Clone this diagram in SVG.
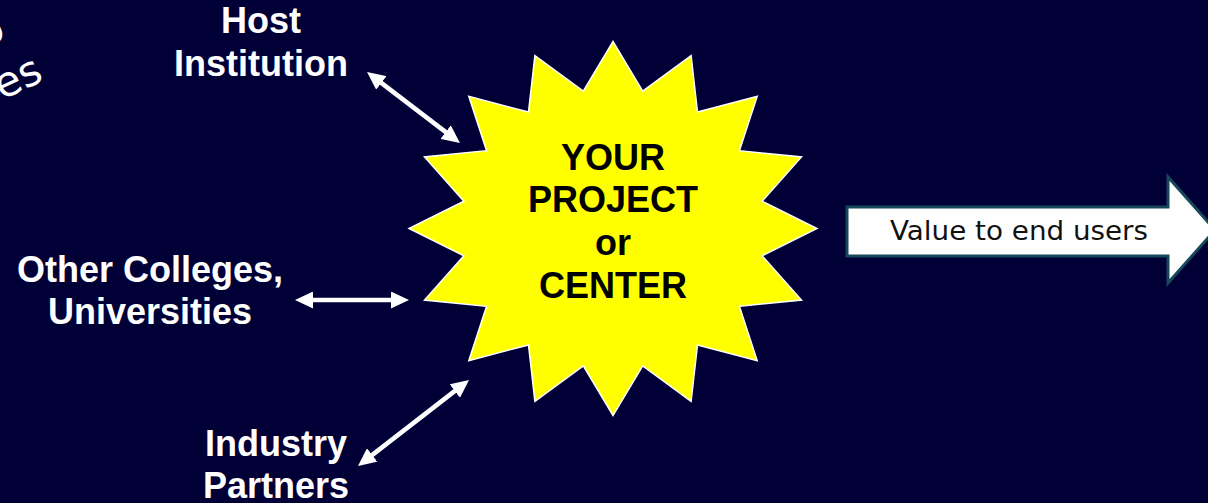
<svg xmlns="http://www.w3.org/2000/svg" width="1208" height="503" viewBox="0 0 1208 503">
  <style>
    .lbl { font-family: "Liberation Sans", Arial, sans-serif; font-weight: bold; font-size: 36px; fill: #ffffff; text-anchor: middle; }
    .ctr { font-family: "Liberation Sans", Arial, sans-serif; font-weight: bold; font-size: 36px; fill: #000000; text-anchor: middle; }
    .val { font-family: "DejaVu Sans", sans-serif; font-size: 26px; fill: #111111; }
    .deco { font-family: "DejaVu Sans", sans-serif; font-size: 42px; fill: #ffffff; }
    .conn { stroke: #ffffff; stroke-width: 4.5; fill: none; marker-start: url(#head); marker-end: url(#head); }
  </style>
  <defs>
    <marker id="head" markerUnits="userSpaceOnUse" viewBox="0 0 18 17" markerWidth="18" markerHeight="17" refX="10" refY="8.5" orient="auto-start-reverse">
      <path d="M0,0 L18,8.5 L0,17 Z" fill="#ffffff"/>
    </marker>
  </defs>
  <rect x="0" y="0" width="1208" height="503" fill="#000036"/>

  <g id="decor-partial-text">
    <text class="deco" x="-4" y="43" text-anchor="middle" transform="rotate(-25 -4 43)">o</text>
    <text class="deco" x="45" y="80" text-anchor="end" transform="rotate(-25 45 80)">es</text>
  </g>

  <g id="connectors">
    <path class="conn" d="M373.4,76.9 L453.6,138.1"/>
    <path class="conn" d="M303,300 L401,300"/>
    <path class="conn" d="M364.3,461.1 L462.7,384.9"/>
  </g>

  <g id="node-center">
    <path d="M613,41.5 L642.7,91.2 L691.1,55.7 L697.5,112.1 L757.2,96.3 L739.4,150.7 L801.5,156.9 L762.1,201.2 L817,228.5 L762.1,255.8 L801.5,300.1 L739.4,306.3 L757.2,360.7 L697.5,344.9 L691.1,401.3 L642.7,365.8 L613,415.5 L583.3,365.8 L534.9,401.3 L528.5,344.9 L468.8,360.7 L486.6,306.3 L424.5,300.1 L463.9,255.8 L409,228.5 L463.9,201.2 L424.5,156.9 L486.6,150.7 L468.8,96.3 L528.5,112.1 L534.9,55.7 L583.3,91.2 Z" fill="#ffff00" stroke="#ffffff" stroke-width="1.5" stroke-linejoin="miter"/>
    <text class="ctr" x="613" y="170">YOUR</text>
    <text class="ctr" x="613" y="212">PROJECT</text>
    <text class="ctr" x="613" y="255">or</text>
    <text class="ctr" x="613" y="298">CENTER</text>
  </g>

  <g id="node-host">
    <text class="lbl" x="261" y="33">Host</text>
    <text class="lbl" x="261" y="76">Institution</text>
  </g>

  <g id="node-colleges">
    <text class="lbl" x="150" y="282">Other Colleges,</text>
    <text class="lbl" x="150" y="324">Universities</text>
  </g>

  <g id="node-industry">
    <text class="lbl" x="276" y="456">Industry</text>
    <text class="lbl" x="276" y="498">Partners</text>
  </g>

  <g id="node-value">
    <path d="M847,207 L1168,207 L1168,177 L1215,230 L1168,283 L1168,256 L847,256 Z" fill="#ffffff" stroke="#17475a" stroke-width="3" stroke-linejoin="miter"/>
    <text class="val" x="890" y="240" textLength="258" lengthAdjust="spacingAndGlyphs">Value to end users</text>
  </g>
</svg>
